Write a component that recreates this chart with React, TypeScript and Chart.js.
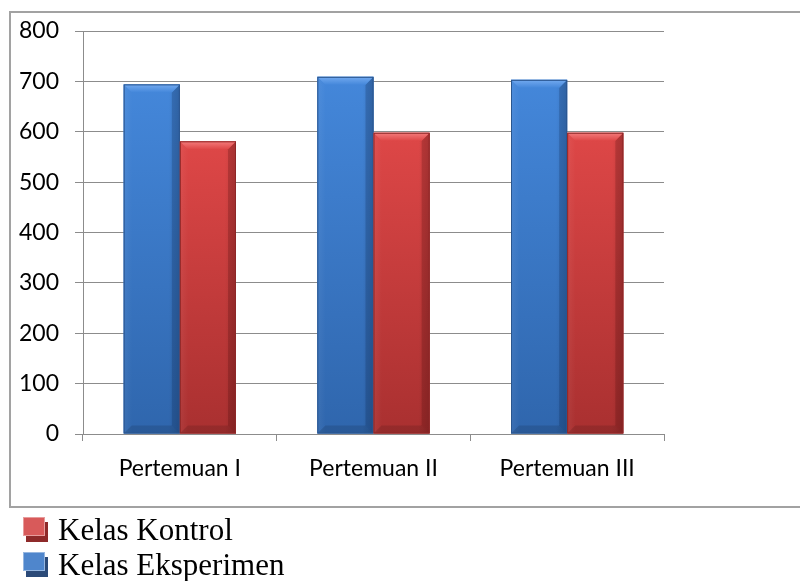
import React, { useEffect, useRef } from "react";
import { Chart, registerables } from "chart.js";

Chart.register(...registerables);

const categories = ["Pertemuan I", "Pertemuan II", "Pertemuan III"];
const kelasEksperimen = [694, 709, 703];
const kelasKontrol = [581, 598, 598];
const seriesNames = ["Kelas Eksperimen", "Kelas Kontrol"];
const yMin = 0;
const yMax = 800;
const yStep = 100;

const palettes = [
  { top: "#4487da", bottom: "#2f66ad", bevel: "#73aaf0", right: "rgba(10,30,70,0.22)", edge: "#2a568f" },
  { top: "#de4747", bottom: "#a93030", bevel: "#f47c7c", right: "rgba(70,10,10,0.22)", edge: "#8e2727" },
];

const bevelPlugin = {
  id: "bevel",
  afterDatasetsDraw(chart: any) {
    const ctx = chart.ctx;
    chart.data.datasets.forEach((_ds: any, di: number) => {
      const meta = chart.getDatasetMeta(di);
      const pal = palettes[di];
      meta.data.forEach((bar: any) => {
        const { x, y, base, width } = bar.getProps(["x", "y", "base", "width"], true);
        const l = x - width / 2;
        const r = x + width / 2;
        const t = y;
        const b = base;
        ctx.save();
        const g = ctx.createLinearGradient(0, t, 0, b);
        g.addColorStop(0, pal.top);
        g.addColorStop(1, pal.bottom);
        ctx.fillStyle = g;
        ctx.fillRect(l, t, r - l, b - t);
        const h = ctx.createLinearGradient(l, 0, r, 0);
        h.addColorStop(0, "rgba(255,255,255,0.06)");
        h.addColorStop(0.15, "rgba(255,255,255,0)");
        h.addColorStop(0.8, "rgba(0,0,0,0)");
        h.addColorStop(1, "rgba(0,0,0,0.12)");
        ctx.fillStyle = h;
        ctx.fillRect(l, t, r - l, b - t);
        const bv = 8;
        ctx.beginPath();
        ctx.moveTo(r, t);
        ctx.lineTo(r, b);
        ctx.lineTo(r - bv, b - bv);
        ctx.lineTo(r - bv, t + bv);
        ctx.closePath();
        ctx.fillStyle = pal.right;
        ctx.fill();
        ctx.beginPath();
        ctx.moveTo(l, b);
        ctx.lineTo(r, b);
        ctx.lineTo(r - bv, b - bv);
        ctx.lineTo(l + bv, b - bv);
        ctx.closePath();
        ctx.fillStyle = "rgba(0,0,0,0.12)";
        ctx.fill();
        const tg = ctx.createLinearGradient(0, t, 0, t + bv);
        tg.addColorStop(0, pal.bevel);
        tg.addColorStop(1, pal.top);
        ctx.beginPath();
        ctx.moveTo(l, t);
        ctx.lineTo(r, t);
        ctx.lineTo(r - bv, t + bv);
        ctx.lineTo(l + bv, t + bv);
        ctx.closePath();
        ctx.fillStyle = tg;
        ctx.fill();
        ctx.strokeStyle = pal.edge;
        ctx.lineWidth = 1;
        ctx.strokeRect(l + 0.5, t + 0.5, r - l - 1, b - t - 1);
        ctx.restore();
      });
    });
  },
};

function LegendItem({ label, face, shade, top }: { label: string; face: string; shade: string; top: number }) {
  return (
    <>
      <div style={{ position: "absolute", left: 26, top: top + 5, width: 22, height: 20, background: shade }} />
      <div
        style={{
          position: "absolute",
          left: 23,
          top: top,
          width: 22,
          height: 19,
          background: face,
          border: "1px solid rgba(255,255,255,0.4)",
          boxSizing: "border-box",
        }}
      />
      <div
        style={{
          position: "absolute",
          left: 58,
          top: top - 5,
          fontFamily: '"Liberation Serif", "Times New Roman", serif',
          fontSize: 31,
          lineHeight: "36px",
          color: "#000",
          whiteSpace: "nowrap",
        }}
      >
        {label}
      </div>
    </>
  );
}

export default function App() {
  const canvasRef = useRef<HTMLCanvasElement | null>(null);

  useEffect(() => {
    document.body.style.margin = "0";
    const canvas = canvasRef.current;
    if (!canvas) return;
    const gridColor = "#8c8c8c";
    const chart = new Chart(canvas, {
      type: "bar",
      data: {
        labels: categories,
        datasets: [
          {
            label: seriesNames[0],
            data: kelasEksperimen,
            backgroundColor: "#3d78c8",
            barPercentage: 1,
            categoryPercentage: 0.58,
          },
          {
            label: seriesNames[1],
            data: kelasKontrol,
            backgroundColor: "#c83a3a",
            barPercentage: 1,
            categoryPercentage: 0.58,
          },
        ],
      },
      options: {
        responsive: false,
        animation: false,
        layout: { padding: { left: 10, right: 136, top: 31, bottom: 74 } },
        plugins: {
          legend: { display: false },
          tooltip: { enabled: false },
        },
        scales: {
          x: {
            grid: { display: true, drawOnChartArea: false, tickLength: 7, color: gridColor, offset: true },
            border: { color: gridColor, width: 1 },
            ticks: {
              color: "#000",
              font: { family: "Lato", size: 23 },
              padding: 14,
              maxRotation: 0,
            },
            afterFit(scale: any) {
              scale.height = 73;
            },
          },
          y: {
            min: yMin,
            max: yMax,
            grid: { color: gridColor, tickLength: 8, lineWidth: 1 },
            border: { color: gridColor, width: 1 },
            ticks: {
              stepSize: yStep,
              color: "#000",
              font: { family: "Lato", size: 23 },
              padding: 16,
            },
            afterFit(scale: any) {
              scale.width = 73;
            },
          },
        },
      },
      plugins: [bevelPlugin],
    });
    return () => chart.destroy();
  }, []);

  return (
    <div style={{ position: "relative", width: 800, height: 581, overflow: "hidden", background: "#fff" }}>
      <div
        style={{
          position: "absolute",
          left: 9,
          top: 11,
          width: 820,
          height: 497,
          border: "2px solid #a2a2a2",
          boxSizing: "border-box",
        }}
      />
      <canvas ref={canvasRef} width={800} height={581} style={{ position: "absolute", left: 0, top: 0 }} />
      <LegendItem label="Kelas Kontrol" face="#d85a5a" shade="#8e2a2a" top={517} />
      <LegendItem label="Kelas Eksperimen" face="#4f86cc" shade="#2b4a78" top={552} />
    </div>
  );
}
